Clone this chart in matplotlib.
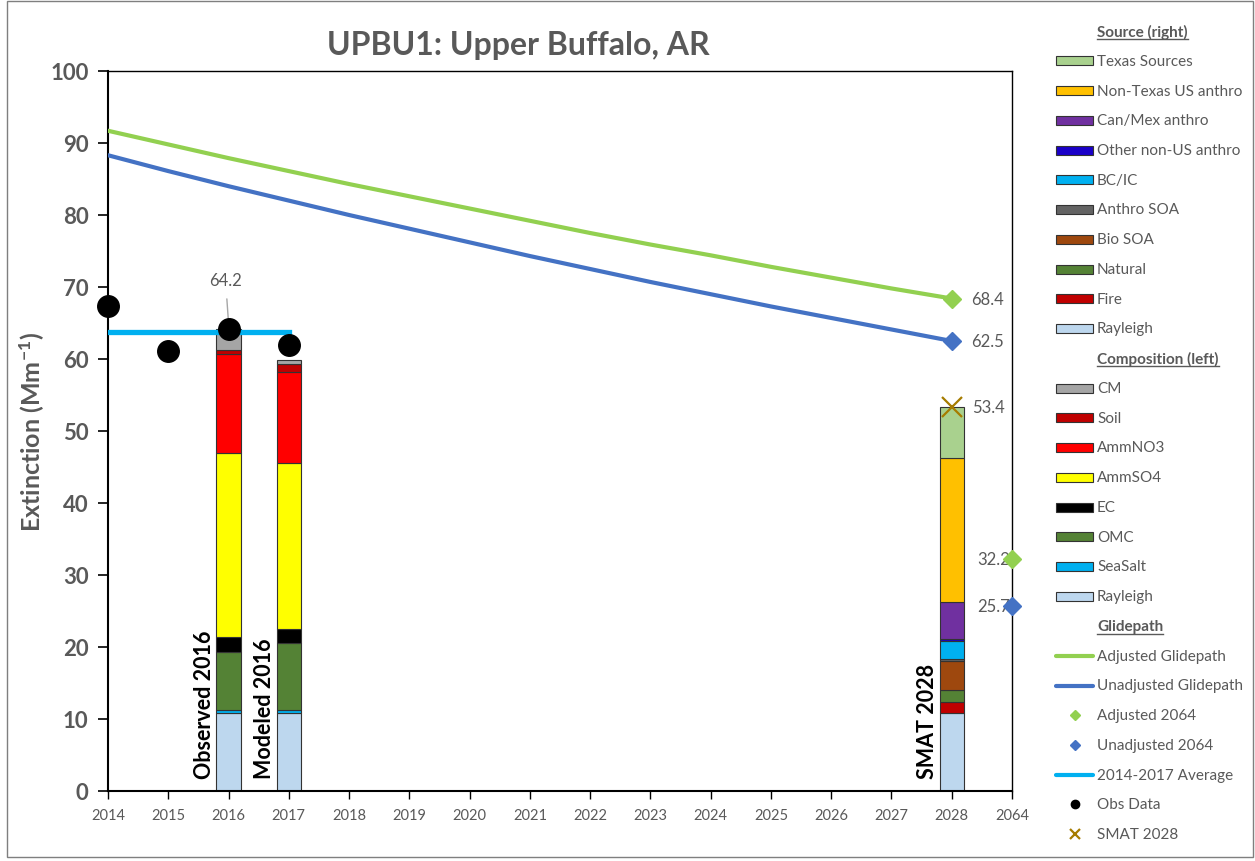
import numpy as np
import matplotlib
matplotlib.use('Agg')
import matplotlib.pyplot as plt
from matplotlib.patches import Rectangle

plt.rcParams['font.family'] = ['Lato', 'DejaVu Sans']
plt.rcParams['mathtext.fontset'] = 'custom'
plt.rcParams['mathtext.rm'] = 'Lato:bold'
plt.rcParams['mathtext.default'] = 'rm'

GRAY = '#595959'

# ---------------- data ----------------
categories = ['2014', '2015', '2016', '2017', '2018', '2019', '2020', '2021',
              '2022', '2023', '2024', '2025', '2026', '2027', '2028', '2064']
glide_years = categories[:15]
adjusted_glide = [91.7, 89.8, 87.9, 86.1, 84.3, 82.6, 80.9, 79.2,
                  77.5, 75.9, 74.4, 72.8, 71.3, 69.8, 68.4]
unadjusted_glide = [88.3, 86.1, 84.0, 82.0, 80.0, 78.1, 76.2, 74.3,
                    72.5, 70.7, 69.0, 67.3, 65.7, 64.1, 62.5]
adjusted_2064 = 32.2
unadjusted_2064 = 25.7

avg_years = ['2014', '2015', '2016', '2017']
avg_values = [63.8, 63.8, 63.8, 63.8]
obs_years = ['2014', '2015', '2016', '2017']
obs_values = [67.3, 61.1, 64.2, 62.0]
smat_2028 = 53.4

comp_names = ['Rayleigh', 'SeaSalt', 'OMC', 'EC', 'AmmSO4', 'AmmNO3', 'Soil', 'CM']
comp_colors = ['#BDD7EE', '#00B0F0', '#548235', '#000000', '#FFFF00', '#FF0000', '#C00000', '#A5A5A5']
observed_2016 = [10.9, 0.4, 8.0, 2.1, 25.6, 13.65, 0.55, 3.0]
modeled_2016 = [10.9, 0.4, 9.3, 1.9, 23.0, 12.7, 1.05, 0.55]

src_names = ['Rayleigh', 'Fire', 'Natural', 'Bio SOA', 'Anthro SOA', 'BC/IC',
             'Other non-US anthro', 'Can/Mex anthro', 'Non-Texas US anthro', 'Texas Sources']
src_colors = ['#BDD7EE', '#C00000', '#548235', '#9E480E', '#636363', '#00B0F0',
              '#1A00C8', '#7030A0', '#FFC000', '#A9D18E']
smat_sources = [10.8, 1.6, 1.6, 4.05, 0.35, 2.5, 0.15, 5.15, 20.1, 7.1]

GREEN = '#92D050'
BLUE = '#4472C4'
CYAN = '#00B0F0'
SMAT_C = '#A67C00'

xpos = {c: i for i, c in enumerate(categories)}

fig = plt.figure(figsize=(12.55, 8.62), dpi=100)
ax = fig.add_axes([108 / 1255, 70 / 862, 904 / 1255, 720 / 862])


def stacked(ax, cat, values, colors):
    bottom = 0
    for v, c in zip(values, colors):
        ax.bar(xpos[cat], v, width=0.4, bottom=bottom, color=c,
               edgecolor='#333333', linewidth=0.8, zorder=2)
        bottom += v


stacked(ax, '2016', observed_2016, comp_colors)
stacked(ax, '2017', modeled_2016, comp_colors)
stacked(ax, '2028', smat_sources, src_colors)

gx = [xpos[y] for y in glide_years]
ax.plot(gx, adjusted_glide, color=GREEN, lw=3, zorder=3, solid_capstyle='round')
ax.plot(gx, unadjusted_glide, color=BLUE, lw=3, zorder=3, solid_capstyle='round')
ax.plot(gx[-1], adjusted_glide[-1], 'D', color=GREEN, ms=9, zorder=4)
ax.plot(gx[-1], unadjusted_glide[-1], 'D', color=BLUE, ms=9, zorder=4)
ax.plot(xpos['2064'], adjusted_2064, 'D', color=GREEN, ms=9, zorder=4, clip_on=False)
ax.plot(xpos['2064'], unadjusted_2064, 'D', color=BLUE, ms=9, zorder=4, clip_on=False)

ax.plot([xpos[y] for y in avg_years], avg_values, color=CYAN, lw=3.8, zorder=4)
ax.plot([xpos[y] for y in obs_years], obs_values, 'o', color='black', ms=15.5,
        zorder=5, clip_on=False)
ax.plot(xpos['2028'], smat_2028, 'x', color=SMAT_C, ms=15, mew=1.6, zorder=5)

# value labels
lab = dict(color=GRAY, fontsize=12, va='center')
ax.text(xpos['2028'] + 0.33, adjusted_glide[-1], f'{adjusted_glide[-1]:.1f}', ha='left', **lab)
ax.text(xpos['2028'] + 0.33, unadjusted_glide[-1], f'{unadjusted_glide[-1]:.1f}', ha='left', **lab)
ax.text(xpos['2028'] + 0.33, smat_2028, f'{smat_2028:.1f}', ha='left', **lab)
ax.text(xpos['2064'] - 0.04, adjusted_2064, f'{adjusted_2064:.1f}', ha='right', **lab)
ax.text(xpos['2064'] - 0.04, unadjusted_2064, f'{unadjusted_2064:.1f}', ha='right', **lab)
ax.annotate(f'{obs_values[2]:.1f}', xy=(xpos['2016'], obs_values[2] + 0.8),
            xytext=(xpos['2016'] - 0.05, 71.0), color=GRAY, fontsize=12,
            ha='center', va='center',
            arrowprops=dict(arrowstyle='-', color='#A6A6A6', lw=1, shrinkA=6, shrinkB=0))

bar_lab = dict(rotation=90, ha='right', va='bottom', fontsize=15.5,
               fontweight='bold', color='black', zorder=6)
ax.text(xpos['2016'] - 0.23, 1.8, 'Observed 2016', **bar_lab)
ax.text(xpos['2017'] - 0.23, 1.8, 'Modeled 2016', **bar_lab)
ax.text(xpos['2028'] - 0.23, 1.8, 'SMAT 2028', **bar_lab)

ax.set_xlim(0, 15)
ax.set_ylim(0, 100)
ax.set_xticks(range(len(categories)))
ax.set_xticklabels(categories, color=GRAY, fontsize=10.5)
ax.set_yticks(range(0, 101, 10))
ax.set_yticklabels([str(v) for v in range(0, 101, 10)], color=GRAY,
                   fontsize=16, fontweight='bold')
ax.tick_params(axis='x', direction='out', length=6, width=1, pad=6)
ax.tick_params(axis='y', direction='out', length=7, width=1.2, pad=7)
for s in ax.spines.values():
    s.set_color('black')
    s.set_linewidth(1)
ax.spines['left'].set_linewidth(1.5)
ax.spines['bottom'].set_linewidth(1.5)
ax.set_ylabel('Extinction (Mm$^{-1}$)', color=GRAY, fontsize=18,
              fontweight='bold', labelpad=2)
ax.set_title('UPBU1: Upper Buffalo, AR', color=GRAY, fontsize=23,
             fontweight='bold', pad=12, x=0.454)

# ---------------- legend drawn by hand ----------------
lg = fig.add_axes([0, 0, 1, 1], zorder=-1)
lg.set_xlim(0, 1255)
lg.set_ylim(862, 0)
lg.axis('off')
lg.add_patch(Rectangle((7, 2), 1246, 856, fill=False, ec='#7F7F7F', lw=1))

rows = [('h', 'Source (right)')]
for n, c in zip(src_names[::-1], src_colors[::-1]):
    rows.append(('p', n, c))
rows.append(('h', 'Composition (left)'))
for n, c in zip(comp_names[::-1], comp_colors[::-1]):
    rows.append(('p', n, c))
rows += [('h', 'Glidepath'),
         ('l', 'Adjusted Glidepath', GREEN),
         ('l', 'Unadjusted Glidepath', BLUE),
         ('m', 'Adjusted 2064', GREEN, 'D'),
         ('m', 'Unadjusted 2064', BLUE, 'D'),
         ('l', '2014-2017 Average', CYAN),
         ('m', 'Obs Data', 'black', 'o'),
         ('m', 'SMAT 2028', SMAT_C, 'x')]

tx = 1097
headers = []
for i, r in enumerate(rows):
    y = 32 + i * 29.75
    if r[0] == 'h':
        t = lg.text(tx, y, r[1], fontsize=11, fontweight='bold', color=GRAY,
                    va='center', ha='left')
        headers.append(t)
        continue
    lg.text(tx, y, r[1], fontsize=11, color=GRAY, va='center', ha='left')
    if r[0] == 'p':
        lg.add_patch(Rectangle((1056, y - 4.5), 37, 9, fc=r[2], ec='#333333', lw=0.8))
    elif r[0] == 'l':
        lg.plot([1056, 1093], [y, y], color=r[2], lw=3, solid_capstyle='round')
    else:
        if r[3] == 'x':
            lg.plot(1075, y, 'x', color=r[2], ms=7, mew=1.6)
        elif r[3] == 'o':
            lg.plot(1075, y, 'o', color=r[2], ms=6)
        else:
            lg.plot(1075, y, 'D', color=r[2], ms=5)

fig.canvas.draw()
rend = fig.canvas.get_renderer()
for t in headers:
    bb = t.get_window_extent(rend)
    yb = 862 - bb.y0 + 0.5
    lg.plot([bb.x0, bb.x1], [yb, yb], color=GRAY, lw=1)

fig.savefig('out.png', dpi=100)
